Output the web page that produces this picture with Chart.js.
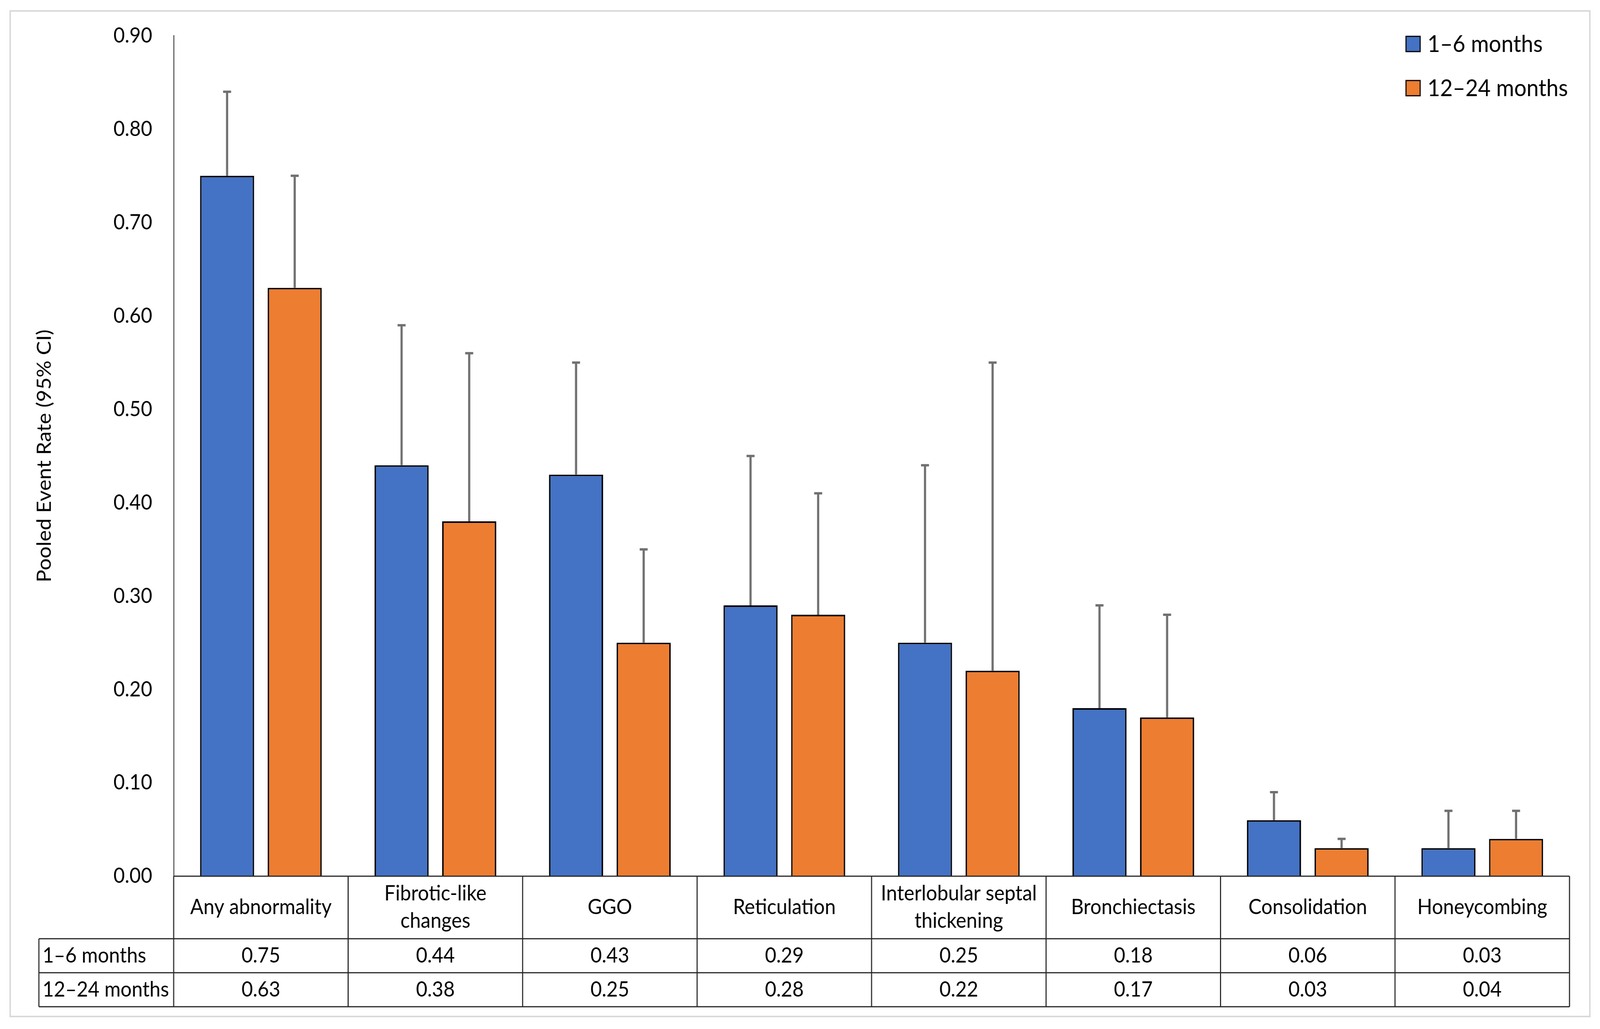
<!DOCTYPE html>
<html>
<head>
<meta charset="utf-8">
<script src="https://cdn.jsdelivr.net/npm/chart.js@4.4.1/dist/chart.umd.min.js"></script>
<style>
  html, body { margin: 0; padding: 0; background: #fff; overflow: hidden; }
</style>
</head>
<body>
<canvas id="chart" width="4404" height="2633" style="width:100vw;height:100vh;display:block"></canvas>
<script>
// Data
const categories = [
  ["Any abnormality"],
  ["Fibrotic-like", "changes"],
  ["GGO"],
  ["Reticulation"],
  ["Interlobular septal", "thickening"],
  ["Bronchiectasis"],
  ["Consolidation"],
  ["Honeycombing"]
];
const seriesLabels = ["1–6 months", "12–24 months"];
const earlyRates = [0.75, 0.44, 0.43, 0.29, 0.25, 0.18, 0.06, 0.03];
const lateRates = [0.63, 0.38, 0.25, 0.28, 0.22, 0.17, 0.03, 0.04];
const earlyUpper = [0.84, 0.59, 0.55, 0.45, 0.44, 0.29, 0.09, 0.07];
const lateUpper = [0.75, 0.56, 0.35, 0.41, 0.55, 0.28, 0.04, 0.07];
const yMin = 0;
const yMax = 0.9;
const yStep = 0.1;

const FONT = "Lato";
const TEXT_SIZE = 54;

// light grey frame round the whole figure
const framePlugin = {
  id: "frame",
  beforeDraw(chart) {
    const ctx = chart.ctx;
    ctx.save();
    ctx.fillStyle = "#fff";
    ctx.fillRect(0, 0, chart.width, chart.height);
    ctx.strokeStyle = "#d9d9d9";
    ctx.lineWidth = 4;
    ctx.strokeRect(28, 28, 4348, 2573);
    ctx.restore();
  }
};

// upper 95% CI whiskers
const errorBarPlugin = {
  id: "errorBars",
  afterDatasetsDraw(chart) {
    const ctx = chart.ctx;
    const y = chart.scales.y;
    ctx.save();
    ctx.strokeStyle = "#707070";
    ctx.lineWidth = 6;
    chart.data.datasets.forEach((ds, d) => {
      const meta = chart.getDatasetMeta(d);
      meta.data.forEach((bar, i) => {
        const top = y.getPixelForValue(ds.upper[i]);
        ctx.beginPath();
        ctx.moveTo(bar.x, bar.y);
        ctx.lineTo(bar.x, top);
        ctx.moveTo(bar.x - 11, top);
        ctx.lineTo(bar.x + 11, top);
        ctx.stroke();
      });
    });
    ctx.restore();
  }
};

// data table under the bars, plus the legend
const tablePlugin = {
  id: "dataTable",
  afterDraw(chart) {
    const ctx = chart.ctx;
    const area = chart.chartArea;
    const n = categories.length;
    const w = (area.right - area.left) / n;
    const tableLeft = 107;
    const rows = [area.bottom, 2402, 2489, 2576];

    ctx.save();
    ctx.strokeStyle = "#262626";
    ctx.lineWidth = 3;
    ctx.beginPath();
    ctx.moveTo(area.left, rows[0]);
    ctx.lineTo(area.right, rows[0]);
    for (let r = 1; r < rows.length; r++) {
      ctx.moveTo(tableLeft, rows[r]);
      ctx.lineTo(area.right, rows[r]);
    }
    ctx.moveTo(tableLeft, rows[1]);
    ctx.lineTo(tableLeft, rows[3]);
    for (let i = 0; i <= n; i++) {
      const x = area.left + i * w;
      ctx.moveTo(x, rows[0]);
      ctx.lineTo(x, rows[3]);
    }
    ctx.stroke();

    ctx.fillStyle = "#000";
    ctx.font = `${TEXT_SIZE}px ${FONT}`;
    ctx.textBaseline = "middle";
    ctx.textAlign = "center";
    const xs = chart.scales.x;
    const catMid = (rows[0] + rows[1]) / 2;
    const lineGap = 70;
    categories.forEach((lines, i) => {
      const cx = xs.getPixelForValue(i);
      const start = catMid - ((lines.length - 1) * lineGap) / 2;
      lines.forEach((t, k) => ctx.fillText(t, cx, start + k * lineGap));
    });

    const series = [earlyRates, lateRates];
    series.forEach((vals, r) => {
      const cy = (rows[r + 1] + rows[r + 2]) / 2;
      ctx.textAlign = "left";
      ctx.fillText(seriesLabels[r], tableLeft + 10, cy);
      ctx.textAlign = "center";
      vals.forEach((v, i) => ctx.fillText(v.toFixed(2), xs.getPixelForValue(i), cy));
    });

    // legend
    ctx.font = `60px ${FONT}`;
    ctx.textAlign = "left";
    chart.data.datasets.forEach((ds, d) => {
      const top = 93 + d * 113;
      ctx.fillStyle = ds.backgroundColor;
      ctx.fillRect(3870, top, 39, 39);
      ctx.strokeStyle = "#000";
      ctx.lineWidth = 3;
      ctx.strokeRect(3870, top, 39, 39);
      ctx.fillStyle = "#000";
      ctx.fillText(ds.label, 3929, top + 21);
    });
    ctx.restore();
  }
};

new Chart(document.getElementById("chart"), {
  type: "bar",
  data: {
    labels: categories.map((c) => c.join(" ")),
    datasets: [
      {
        label: seriesLabels[0],
        data: earlyRates,
        upper: earlyUpper,
        backgroundColor: "#4472C4",
        borderColor: "#000",
        borderWidth: 4,
        borderSkipped: "bottom"
      },
      {
        label: seriesLabels[1],
        data: lateRates,
        upper: lateUpper,
        backgroundColor: "#ED7D31",
        borderColor: "#000",
        borderWidth: 4,
        borderSkipped: "bottom"
      }
    ]
  },
  options: {
    responsive: false,
    animation: false,
    devicePixelRatio: 1,
    categoryPercentage: 0.775,
    barPercentage: 0.8,
    layout: { padding: { top: 84, right: 84, bottom: 391, left: 0 } },
    plugins: {
      legend: { display: false },
      tooltip: { enabled: false }
    },
    scales: {
      x: { display: false },
      y: {
        min: yMin,
        max: yMax,
        afterFit(scale) { scale.width = 478; },
        grid: { display: false, drawTicks: false },
        border: { display: true, color: "#595959", width: 3 },
        ticks: {
          stepSize: yStep,
          padding: 59,
          color: "#000",
          font: { family: FONT, size: TEXT_SIZE },
          callback: (v) => v.toFixed(2)
        },
        title: {
          display: true,
          text: "Pooled Event Rate (95% CI)",
          color: "#000",
          font: { family: FONT, size: 54 },
          padding: { top: 90, bottom: 0 }
        }
      }
    }
  },
  plugins: [framePlugin, errorBarPlugin, tablePlugin]
});
</script>
</body>
</html>
